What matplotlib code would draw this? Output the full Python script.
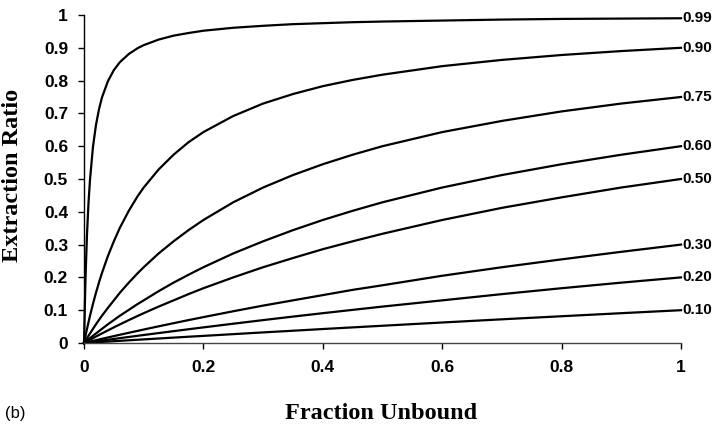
import matplotlib
matplotlib.use("Agg")
import matplotlib.pyplot as plt

# Fraction unbound (x) and extraction ratio curves, one per value at fu = 1
fu = [0, 0.0025, 0.005, 0.0075, 0.01, 0.015, 0.02, 0.025, 0.03, 0.04,
      0.05, 0.06, 0.075, 0.09, 0.1, 0.125, 0.15, 0.175, 0.2, 0.25,
      0.3, 0.35, 0.4, 0.45, 0.5, 0.6, 0.7, 0.8, 0.9, 1.0]

e_099 = [0, 0.198, 0.331, 0.426, 0.497, 0.598, 0.664, 0.712, 0.748, 0.798,
         0.832, 0.856, 0.881, 0.899, 0.908, 0.925, 0.937, 0.945, 0.952, 0.961,
         0.967, 0.972, 0.975, 0.978, 0.980, 0.983, 0.986, 0.988, 0.989, 0.990]
e_090 = [0, 0.022, 0.043, 0.063, 0.083, 0.119, 0.153, 0.184, 0.213, 0.265,
         0.310, 0.351, 0.403, 0.448, 0.474, 0.529, 0.574, 0.612, 0.643, 0.692,
         0.730, 0.759, 0.783, 0.802, 0.818, 0.844, 0.863, 0.878, 0.890, 0.900]
e_075 = [0, 0.0074, 0.0148, 0.022, 0.029, 0.043, 0.057, 0.070, 0.083, 0.107,
         0.130, 0.153, 0.184, 0.213, 0.231, 0.273, 0.310, 0.344, 0.375, 0.429,
         0.474, 0.512, 0.545, 0.574, 0.600, 0.643, 0.677, 0.706, 0.730, 0.750]
e_060 = [0, 0.0037, 0.0074, 0.011, 0.015, 0.022, 0.029, 0.036, 0.043, 0.057,
         0.070, 0.083, 0.101, 0.119, 0.130, 0.158, 0.184, 0.208, 0.231, 0.273,
         0.310, 0.344, 0.375, 0.403, 0.429, 0.474, 0.512, 0.545, 0.574, 0.600]
e_050 = [0, 0.0025, 0.005, 0.0074, 0.0099, 0.0148, 0.0196, 0.0244, 0.0291, 0.0385,
         0.0476, 0.0566, 0.0698, 0.0826, 0.0909, 0.111, 0.130, 0.149, 0.167, 0.200,
         0.231, 0.259, 0.286, 0.310, 0.333, 0.375, 0.412, 0.444, 0.474, 0.500]
e_030 = [0, 0.0011, 0.0021, 0.0032, 0.0042, 0.0064, 0.0085, 0.0106, 0.0127, 0.0169,
         0.0210, 0.0251, 0.0311, 0.0371, 0.0411, 0.0508, 0.0604, 0.0698, 0.0789, 0.0968,
         0.114, 0.130, 0.146, 0.162, 0.176, 0.205, 0.231, 0.255, 0.278, 0.300]
e_020 = [0, 0.0006, 0.0012, 0.0019, 0.0025, 0.0037, 0.0050, 0.0062, 0.0075, 0.0099,
         0.0123, 0.0148, 0.0184, 0.0220, 0.0244, 0.0303, 0.0361, 0.0419, 0.0476, 0.0588,
         0.0698, 0.0805, 0.0909, 0.101, 0.111, 0.130, 0.149, 0.167, 0.184, 0.200]
e_010 = [0, 0.0003, 0.0006, 0.0008, 0.0011, 0.0017, 0.0022, 0.0028, 0.0033, 0.0044,
         0.0055, 0.0066, 0.0083, 0.0099, 0.0110, 0.0137, 0.0164, 0.0191, 0.0217, 0.0270,
         0.0323, 0.0374, 0.0426, 0.0476, 0.0526, 0.0625, 0.0722, 0.0816, 0.0909, 0.100]

curves = [e_099, e_090, e_075, e_060, e_050, e_030, e_020, e_010]
curve_labels = ["0.99", "0.90", "0.75", "0.60", "0.50", "0.30", "0.20", "0.10"]

xticks = [0, 0.2, 0.4, 0.6, 0.8, 1]
xticklabels = ["0", "0.2", "0.4", "0.6", "0.8", "1"]
yticks = [0, 0.1, 0.2, 0.3, 0.4, 0.5, 0.6, 0.7, 0.8, 0.9, 1]
yticklabels = ["0", "0.1", "0.2", "0.3", "0.4", "0.5", "0.6", "0.7", "0.8", "0.9", "1"]

sans = "Liberation Sans"
serif = "Liberation Serif"

fig = plt.figure(figsize=(7.18, 4.28), dpi=100)
ax = fig.add_axes([0.117, 0.1986, 0.8315, 0.7664])

for ys, lab in zip(curves, curve_labels):
    ax.plot(fu, ys, color="black", lw=1.6, solid_joinstyle="round", clip_on=False)
    ax.text(1.003, ys[-1], lab, fontsize=11, fontweight="bold", family=sans,
            ha="left", va="center")

ax.set_xlim(0, 1)
ax.set_ylim(0, 1)
ax.set_xticks(xticks)
ax.set_xticklabels(xticklabels)
ax.set_yticks(yticks)
ax.set_yticklabels(yticklabels)

for lbl in ax.get_xticklabels() + ax.get_yticklabels():
    lbl.set_fontfamily(sans)
    lbl.set_fontweight("bold")
    lbl.set_fontsize(12.5)

ax.tick_params(axis="both", direction="out", length=4, width=1, color="black")
ax.tick_params(axis="x", pad=8.5)
ax.tick_params(axis="y", pad=7.5)

ax.spines["top"].set_visible(False)
ax.spines["right"].set_visible(False)
ax.spines["left"].set_linewidth(1)
ax.spines["bottom"].set_linewidth(1)
ax.spines["bottom"].set_color("#444444")

ax.set_xlabel("Fraction Unbound", fontsize=17.5, fontweight="bold", family=serif)
ax.set_ylabel("Extraction Ratio", fontsize=17.5, fontweight="bold", family=serif)
ax.xaxis.set_label_coords(0.497, -0.183)
ax.yaxis.set_label_coords(-0.102, 0.51)

fig.text(0.007, 0.035, "(b)", fontsize=12, family=sans, ha="left", va="center")

fig.savefig("out.png", dpi=100)
